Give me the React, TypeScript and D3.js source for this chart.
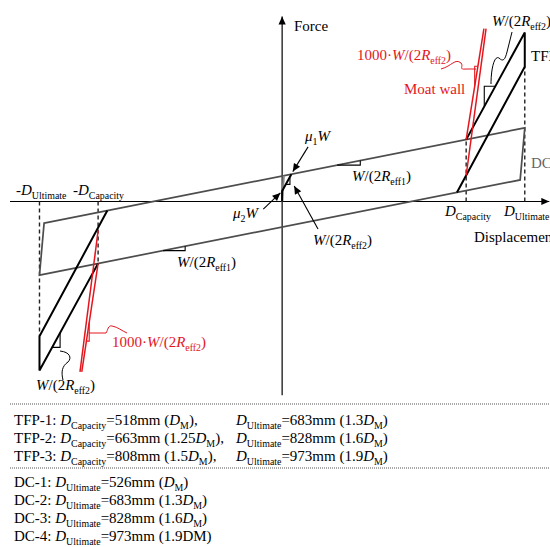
import React from 'react';
import * as d3 from 'd3';

// displacement in mm, force as a fraction of W
const dcLoop = [[-670, -0.083], [683, 0.283], [670, 0.083], [-683, -0.283]];
const dcStart = [[0, 0], [5, 0.099]];
const tfpStart = [[0, 0], [0, 0.04], [26, 0.105]];
const tfpRight = [[492, 0.035], [683, 0.518], [683, 0.65], [518, 0.238]];
const tfpLeft = [[-492, -0.035], [-683, -0.518], [-683, -0.65], [-518, -0.238]];
const moatRight = [[[518, 0.238], [568, 0.665]], [[518, 0.1], [574, 0.665]]];
const moatLeft = [[[-518, -0.112], [-569, -0.655]], [[-518, -0.238], [-564, -0.655]]];
const limitLines = [[-683, -0.518], [-518, -0.238], [518, 0.238], [683, 0.518]];

// small slope triangles
const slopeMarks = [
  [[155, 0.14], [220, 0.14], [220, 0.158]],
  [[-335, -0.189], [-273, -0.189], [-273, -0.172]],
  [[569, 0.366], [569, 0.443], [600, 0.443]],
  [[-647, -0.561], [-625, -0.561], [-625, -0.506]],
  [[11, 0.066], [22, 0.066], [22, 0.092]],
];
const redMarks = [
  [[542, 0.443], [542, 0.52], [551, 0.52]],
  [[-551, -0.537], [-543, -0.537], [-543, -0.465]],
];
const arrows = [
  [[73, 0.21], [30, 0.115]],
  [[-53, -0.029], [-5, 0.033]],
  [[101, -0.106], [34, 0.06]],
];

// table below the chart
const tfpNames = ['TFP-1', 'TFP-2', 'TFP-3'];
const tfpCapacity = [518, 663, 808];
const tfpCapFactor = ['', '1.25', '1.5'];
const tfpUltimate = [683, 828, 973];
const tfpUltFactor = ['1.3', '1.6', '1.9'];
const dcNames = ['DC-1', 'DC-2', 'DC-3', 'DC-4'];
const dcUltimate = [526, 683, 828, 973];
const dcFactor = ['', '1.3', '1.6', '1.9'];

const width = 550;
const height = 547;
const red = '#e3161e';
const gray = '#4d4d4d';
const font = '"Liberation Serif", "Times New Roman", serif';

const x = d3.scaleLinear().domain([-766, 754]).range([10, 550]);
const y = d3.scaleLinear().domain([-0.75, 0.7]).range([396.5, 19.5]);
const line = d3.line<number[]>().x((d) => x(d[0])).y((d) => y(d[1]));

type Seg = [string, string?];

const Rich = ({ px, py, segs, fill = '#000', size = 15 }: { px: number; py: number; segs: Seg[]; fill?: string; size?: number }) => {
  let shift = 0;
  return (
    <text x={px} y={py} fill={fill} fontSize={size} style={{ whiteSpace: 'pre' }}>
      {segs.map(([t, st = ''], k) => {
        const sub = st.includes('s');
        const dy = (sub ? 4 : 0) - shift;
        shift = sub ? 4 : 0;
        return (
          <tspan key={k} dy={dy} fontStyle={st.includes('i') ? 'italic' : 'normal'} fontSize={sub ? size * 0.66 : size}>
            {t}
          </tspan>
        );
      })}
    </text>
  );
};

const wReff = (n: string): Seg[] => [['W', 'i'], ['/(2'], ['R', 'i'], ['eff' + n, 's'], [')']];
const dSub = (s: string): Seg[] => [['D', 'i'], [s, 's']];
const dm = (f: string): Seg[] => (f ? [['(' + f], ['D', 'i'], ['M', 's']] : [['('], ['D', 'i'], ['M', 's']]);

export default function App() {
  return (
    <svg width={width} height={height} style={{ position: 'absolute', left: 0, top: 0, background: '#fff' }} fontFamily={font}>
      <defs>
        <marker id="ah" viewBox="0 0 10 10" refX="10" refY="5" markerWidth="9" markerHeight="8" orient="auto" markerUnits="userSpaceOnUse">
          <path d="M0,0.5 L10,5 L0,9.5 Z" fill="#000" />
        </marker>
      </defs>

      {/* axes */}
      <line x1={x(-766)} x2={x(752)} y1={y(0)} y2={y(0)} stroke="#000" strokeWidth={1.2} markerEnd="url(#ah)" />
      <line x1={x(0)} x2={x(0)} y1={y(-0.745)} y2={y(0.712)} stroke="#000" strokeWidth={1.2} markerEnd="url(#ah)" />

      {/* displacement limits */}
      {limitLines.map((d, i) => (
        <line key={i} x1={x(d[0])} x2={x(d[0])} y1={y(0)} y2={y(d[1])} stroke="#222" strokeWidth={1.4} strokeDasharray="4 3" />
      ))}

      {/* DC loop */}
      <path d={line(dcLoop) + 'Z'} fill="none" stroke={gray} strokeWidth={1.7} />
      <path d={line(dcStart)!} fill="none" stroke="#888" strokeWidth={2} />

      {/* TFP loop */}
      {[tfpRight, tfpLeft, tfpStart].map((d, i) => (
        <path key={i} d={line(d)!} fill="none" stroke="#000" strokeWidth={2} />
      ))}

      {/* moat wall */}
      {[...moatRight, ...moatLeft].map((d, i) => (
        <path key={i} d={line(d)!} fill="none" stroke={red} strokeWidth={1.5} />
      ))}

      {slopeMarks.map((d, i) => (
        <path key={i} d={line(d)!} fill="none" stroke="#000" strokeWidth={1.1} />
      ))}
      {redMarks.map((d, i) => (
        <path key={i} d={line(d)!} fill="none" stroke={red} strokeWidth={1.1} />
      ))}

      {arrows.map((d, i) => (
        <line key={i} x1={x(d[0][0])} y1={y(d[0][1])} x2={x(d[1][0])} y2={y(d[1][1])} stroke="#000" strokeWidth={1.1} markerEnd="url(#ah)" />
      ))}

      {/* leaders */}
      <path d="M441,69 C452,66 455,58 461,63 C464,66 458,70 466,69 L476,69" fill="none" stroke={red} strokeWidth={1} />
      <path d="M491,84 C491,70 494,55 499,58 C503,62 505,60 507,52 L512,32" fill="none" stroke="#000" strokeWidth={1} />
      <path d="M60,351 C70,352 72,358 68,362 C62,366 61,372 63,380" fill="none" stroke="#000" strokeWidth={1} />
      <path d="M89,333 L106,333 C108,330 108,325 112,326 C118,327 122,331 127,333" fill="none" stroke={red} strokeWidth={1} />

      {/* labels */}
      <Rich px={294} py={31} segs={[['Force']]} />
      <Rich px={474} py={242} segs={[['Displacement']]} />
      <Rich px={16} py={195} segs={[['-'], ...dSub('Ultimate')]} />
      <Rich px={73} py={195} segs={[['-'], ...dSub('Capacity')]} />
      <Rich px={445} py={216} segs={dSub('Capacity')} />
      <Rich px={504} py={216} segs={dSub('Ultimate')} />
      <Rich px={305} py={141} segs={[['μ', 'i'], ['1', 's'], ['W', 'i']]} />
      <Rich px={233} py={218} segs={[['μ', 'i'], ['2', 's'], ['W', 'i']]} />
      <Rich px={352} py={181} segs={wReff('1')} />
      <Rich px={177} py={267} segs={wReff('1')} />
      <Rich px={313} py={245} segs={wReff('2')} />
      <Rich px={492} py={26} segs={wReff('2')} />
      <Rich px={36} py={390} segs={wReff('2')} />
      <Rich px={357} py={60} segs={[['1000·'], ...wReff('2')]} fill={red} />
      <Rich px={112} py={347} segs={[['1000·'], ...wReff('2')]} fill={red} />
      <Rich px={404} py={94} segs={[['Moat wall']]} fill={red} />
      <Rich px={531} py={61} segs={[['TFP']]} />
      <Rich px={531} py={168} segs={[['DC']]} fill="#666" />

      {/* table */}
      <line x1={10} x2={550} y1={404} y2={404} stroke="#555" strokeWidth={1} strokeDasharray="1 1" />
      <line x1={10} x2={550} y1={468} y2={468} stroke="#555" strokeWidth={1} strokeDasharray="1 1" />
      {tfpNames.map((n, i) => (
        <g key={n}>
          <Rich px={14} py={425 + i * 18} segs={[[n + ': '], ...dSub('Capacity'), ['=' + tfpCapacity[i] + 'mm '], ...dm(tfpCapFactor[i]), ['),']]} />
          <Rich px={236} py={425 + i * 18} segs={[...dSub('Ultimate'), ['=' + tfpUltimate[i] + 'mm '], ...dm(tfpUltFactor[i]), [')']]} />
        </g>
      ))}
      {dcNames.map((n, i) => (
        <Rich
          key={n}
          px={14}
          py={487 + i * 18}
          segs={[[n + ': '], ...dSub('Ultimate'), ['=' + dcUltimate[i] + 'mm '], ...(i === 3 ? [['(' + dcFactor[i] + 'DM)'] as Seg] : [...dm(dcFactor[i]), [')'] as Seg])]}
        />
      ))}
    </svg>
  );
}
